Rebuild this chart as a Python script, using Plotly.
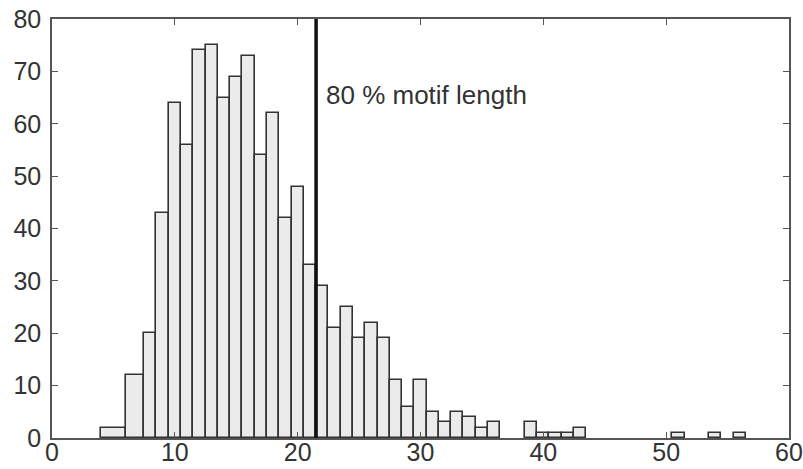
import plotly.graph_objects as go

# Histogram data (bin centres, bin widths, counts)
bin_centers = [5, 6.75] + list(range(8, 37)) + [39, 40, 41, 42, 43, 51, 54, 56]
bin_widths = [2, 1.5] + [1] * (len(range(8, 37)) + 8)
counts = [2, 12,
          20, 43, 64, 56, 74, 75, 65, 69, 73, 54, 62, 42, 48, 33,
          29, 21, 25, 19, 22, 19, 11, 6, 11, 5, 3, 5, 4, 2, 3,
          3, 1, 1, 1, 2, 1, 1, 1]
threshold_x = 21.5
threshold_label = "80 % motif length"
x_ticks = [0, 10, 20, 30, 40, 50, 60]
y_ticks = [0, 10, 20, 30, 40, 50, 60, 70, 80]

fig = go.Figure()
fig.add_trace(go.Bar(
    x=bin_centers, y=counts, width=bin_widths,
    marker=dict(color="#ebebeb", line=dict(color="#333333", width=1.6)),
    showlegend=False,
))
fig.add_trace(go.Scatter(
    x=[threshold_x, threshold_x], y=[0, 80], mode="lines",
    line=dict(color="#111111", width=3.5), showlegend=False,
))
fig.add_annotation(
    x=threshold_x, y=65.5, xref="x", yref="y", text=threshold_label,
    showarrow=False, xanchor="left", yanchor="middle", xshift=8,
    font=dict(family="Liberation Sans, Arial", size=26, color="#333333"),
)

axis_common = dict(
    showline=True, linecolor="#555555", linewidth=1.5, mirror="ticks",
    ticks="inside", ticklen=6, tickcolor="#555555", tickwidth=1.2,
    showgrid=False, zeroline=False, automargin=False,
    tickfont=dict(family="Liberation Sans, Arial", size=25, color="#333333"),
)
fig.update_xaxes(range=[0, 60], tickvals=x_ticks, ticklabelstandoff=-9, **axis_common)
fig.update_yaxes(range=[0, 80], tickvals=y_ticks, ticklabelstandoff=4, **axis_common)

fig.update_layout(
    width=803, height=469,
    margin=dict(l=52, r=14, t=19, b=31),
    plot_bgcolor="white", paper_bgcolor="white",
    bargap=0,
)
fig.write_html("out.html")
